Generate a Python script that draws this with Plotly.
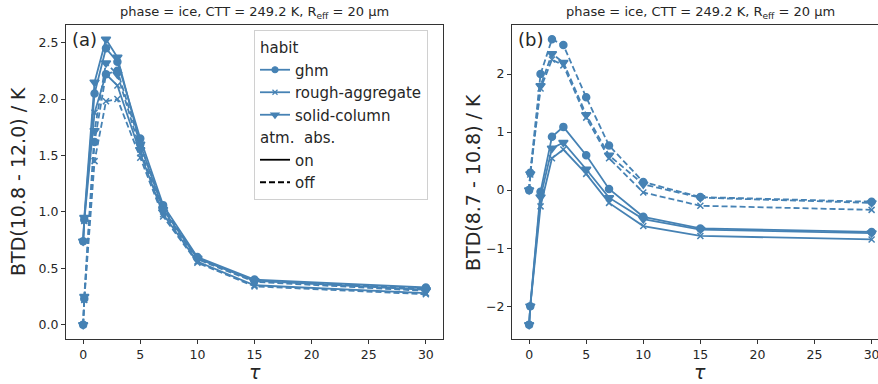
import plotly.graph_objects as go

# ---- data ----
tau = [0, 0.1, 1, 2, 3, 5, 7, 10, 15, 30]
habits = ["ghm", "rough-aggregate", "solid-column"]

# panel (a): BTD(10.8 - 12.0)
a_on_ghm = [0.74, 0.93, 2.05, 2.45, 2.33, 1.65, 1.06, 0.60, 0.40, 0.33]
a_on_rough = [0.74, 0.92, 1.88, 2.22, 2.12, 1.52, 0.98, 0.56, 0.35, 0.28]
a_on_sc = [0.74, 0.95, 2.15, 2.53, 2.37, 1.60, 1.02, 0.59, 0.39, 0.31]
a_off_ghm = [0.0, 0.23, 1.62, 2.22, 2.25, 1.60, 1.04, 0.59, 0.39, 0.32]
a_off_rough = [0.0, 0.22, 1.45, 1.98, 2.00, 1.48, 0.96, 0.55, 0.34, 0.27]
a_off_sc = [0.0, 0.25, 1.72, 2.32, 2.22, 1.55, 1.00, 0.58, 0.38, 0.30]

# panel (b): BTD(8.7 - 10.8)
b_on_ghm = [-2.32, -2.0, -0.03, 0.92, 1.09, 0.60, 0.02, -0.46, -0.66, -0.72]
b_on_rough = [-2.32, -2.0, -0.28, 0.55, 0.70, 0.28, -0.22, -0.62, -0.79, -0.85]
b_on_sc = [-2.32, -2.0, -0.12, 0.72, 0.82, 0.36, -0.13, -0.50, -0.68, -0.74]
b_off_ghm = [0.0, 0.30, 2.00, 2.60, 2.50, 1.60, 0.77, 0.14, -0.12, -0.20]
b_off_rough = [0.0, 0.27, 1.75, 2.25, 2.15, 1.25, 0.55, -0.04, -0.27, -0.34]
b_off_sc = [0.0, 0.28, 1.80, 2.35, 2.20, 1.30, 0.60, 0.10, -0.13, -0.22]

xticks = [0, 5, 10, 15, 20, 25, 30]
a_yticks = [0.0, 0.5, 1.0, 1.5, 2.0, 2.5]
b_yticks = [-2, -1, 0, 1, 2]

title_text = "phase = ice, CTT = 249.2 K, R<sub>eff</sub> = 20 μm"
a_ylabel = "BTD(10.8 - 12.0) / K"
b_ylabel = "BTD(8.7 - 10.8) / K"

# ---- style ----
COLOR = "#4682B4"
TXT = "#262626"
FONT = "DejaVu Sans"
symbols = {"ghm": "circle", "rough-aggregate": "x-thin", "solid-column": "triangle-down"}
msize = {"ghm": 7, "rough-aggregate": 6, "solid-column": 8}
DASH = "6px,3px"
LW = 1.8

W, H = 878, 384
def px(x):
    return x / W
def py(y):
    return 1 - y / H

fig = go.Figure()

panels = [
    ("x", "y", {"ghm": (a_on_ghm, a_off_ghm), "rough-aggregate": (a_on_rough, a_off_rough),
                "solid-column": (a_on_sc, a_off_sc)}),
    ("x2", "y2", {"ghm": (b_on_ghm, b_off_ghm), "rough-aggregate": (b_on_rough, b_off_rough),
                  "solid-column": (b_on_sc, b_off_sc)}),
]

for xa, ya, data in panels:
    for h in habits:
        on, off = data[h]
        for vals, dash in ((off, DASH), (on, "solid")):
            fig.add_trace(go.Scatter(
                x=tau, y=vals, xaxis=xa, yaxis=ya, mode="lines+markers",
                line=dict(color=COLOR, width=LW, dash=dash),
                marker=dict(symbol=symbols[h], size=msize[h], color=COLOR,
                            line=dict(color=COLOR, width=1.5)),
                showlegend=False, hoverinfo="skip"))

# legend-only traces
for i, h in enumerate(habits):
    fig.add_trace(go.Scatter(
        x=[None], y=[None], mode="lines+markers", name=h,
        line=dict(color=COLOR, width=LW),
        marker=dict(symbol=symbols[h], size=msize[h] - 1, color=COLOR,
                    line=dict(color=COLOR, width=1.2)),
        legendgroup="habit", legendgrouptitle=dict(text="habit", font=dict(size=15, color=TXT, family=FONT)),
        showlegend=True))
for name, dash in (("on", "solid"), ("off", DASH)):
    fig.add_trace(go.Scatter(
        x=[None], y=[None], mode="lines", name=name,
        line=dict(color="black", width=LW, dash=dash),
        legendgroup="atm", legendgrouptitle=dict(text="atm.  abs.", font=dict(size=15, color=TXT, family=FONT)),
        showlegend=True))

ydom = [py(339), py(25)]
axis_common = dict(showline=True, linecolor="#333333", linewidth=1, ticks="outside",
                   ticklen=4, tickwidth=1, tickcolor="#333333", showgrid=False, zeroline=False,
                   tickfont=dict(size=12.5, color=TXT, family=FONT), automargin=False,
                   ticklabeloverflow="allow")

fig.update_layout(
    width=W, height=H,
    margin=dict(l=0, r=0, t=0, b=0),
    plot_bgcolor="white", paper_bgcolor="white",
    font=dict(family=FONT, color=TXT),
    xaxis=dict(domain=[px(66), px(443)], range=[-1.5, 31.5], tickvals=xticks, anchor="y",
               mirror=True, **axis_common),
    yaxis=dict(domain=ydom, range=[-0.1265, 2.6565], tickvals=a_yticks, tickformat=".1f",
               anchor="x", mirror=True, **axis_common),
    xaxis2=dict(domain=[px(512), 1.0], range=[-1.5, (878 - 529.3) / 11.41], tickvals=xticks,
                anchor="y2", mirror=True, **axis_common),
    yaxis2=dict(domain=ydom, range=[-2.566, 2.846], tickvals=b_yticks, anchor="x2",
                **axis_common),
    legend=dict(x=px(254), y=py(30), xanchor="left", yanchor="top",
                bordercolor="#d0d0d0", borderwidth=1, bgcolor="rgba(255,255,255,0.85)",
                font=dict(size=15, color=TXT, family=FONT), tracegroupgap=0,
                itemwidth=30, traceorder="grouped"),
)

ann = []
for cx, letter, lx, ylab, ylx in ((254.5, "(a)", 70, a_ylabel, 18), (700, "(b)", 516, b_ylabel, 473)):
    ann.append(dict(text=title_text, x=px(cx), y=py(13), xref="paper", yref="paper",
                    showarrow=False, xanchor="center", yanchor="middle",
                    font=dict(size=13, color=TXT, family=FONT)))
    ann.append(dict(text=letter, x=px(lx), y=py(40), xref="paper", yref="paper",
                    showarrow=False, xanchor="left", yanchor="middle",
                    font=dict(size=18, color=TXT, family=FONT)))
    ann.append(dict(text=ylab, x=px(ylx), y=py(182), xref="paper", yref="paper",
                    showarrow=False, xanchor="center", yanchor="middle", textangle=-90,
                    font=dict(size=19, color=TXT, family=FONT)))
    ann.append(dict(text="<i>τ</i>", x=px(cx), y=py(372), xref="paper", yref="paper",
                    showarrow=False, xanchor="center", yanchor="middle",
                    font=dict(size=19, color=TXT, family=FONT)))
fig.update_layout(annotations=ann)

fig.write_html("out.html", config={"displayModeBar": False},
               post_script="document.body.style.margin='0px';")
